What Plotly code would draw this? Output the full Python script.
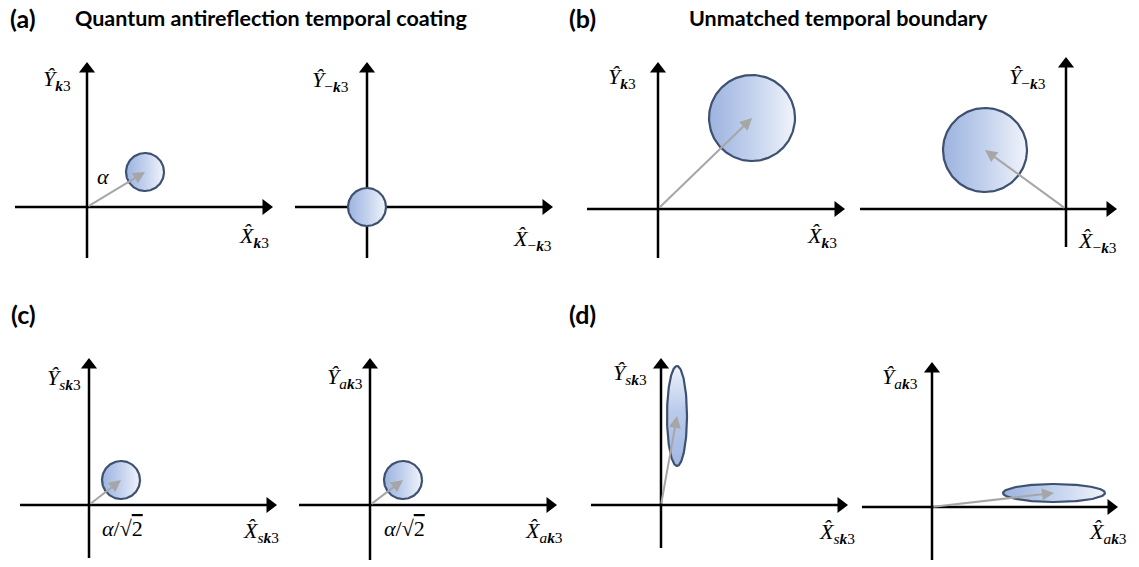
import numpy as np
import plotly.graph_objects as go

W, H = 1139, 567
S = 20.0  # pixels per quadrature unit

# ---- data: coherent-state centres and uncertainty semi-axes (quadrature units) ----
panels = ["a1", "a2", "b1", "b2", "c1", "c2", "d1", "d2"]
center_x = [2.9, 0.0, 4.7, -4.05, 1.6, 1.65, 0.8, 6.1]
center_y = [1.75, 0.0, 4.55, 2.95, 1.25, 1.25, 4.45, 0.7]
semi_x = [0.95, 0.95, 2.15, 2.1, 0.95, 0.95, 0.5, 2.55]
semi_y = [0.95, 0.95, 2.15, 2.1, 0.95, 0.95, 2.5, 0.45]
has_arrow = [True, False, True, True, True, True, True, True]
grad_type = ["horizontal"] * 6 + ["vertical", "horizontal"]

y_labels = [
    "<i>Ŷ</i><sub><b><i>k</i></b>3</sub>",
    "<i>Ŷ</i><sub>−<b><i>k</i></b>3</sub>",
    "<i>Ŷ</i><sub><b><i>k</i></b>3</sub>",
    "<i>Ŷ</i><sub>−<b><i>k</i></b>3</sub>",
    "<i>Ŷ</i><sub><i>s</i><b><i>k</i></b>3</sub>",
    "<i>Ŷ</i><sub><i>a</i><b><i>k</i></b>3</sub>",
    "<i>Ŷ</i><sub><i>s</i><b><i>k</i></b>3</sub>",
    "<i>Ŷ</i><sub><i>a</i><b><i>k</i></b>3</sub>",
]
XH = "X\u0302"
x_labels = [
    f"<i>{XH}</i><sub><b><i>k</i></b>3</sub>",
    f"<i>{XH}</i><sub>−<b><i>k</i></b>3</sub>",
    f"<i>{XH}</i><sub><b><i>k</i></b>3</sub>",
    f"<i>{XH}</i><sub>−<b><i>k</i></b>3</sub>",
    f"<i>{XH}</i><sub><i>s</i><b><i>k</i></b>3</sub>",
    f"<i>{XH}</i><sub><i>a</i><b><i>k</i></b>3</sub>",
    f"<i>{XH}</i><sub><i>s</i><b><i>k</i></b>3</sub>",
    f"<i>{XH}</i><sub><i>a</i><b><i>k</i></b>3</sub>",
]
amp_labels = ["<i>α</i>", "", "", "",
              "<i>α</i>/√<span style='text-decoration:overline'>2</span>",
              "<i>α</i>/√<span style='text-decoration:overline'>2</span>", "", ""]

panel_letters = ["(a)", "(b)", "(c)", "(d)"]
panel_titles = ["Quantum antireflection temporal coating", "Unmatched temporal boundary", "", ""]

# ---- layout geometry (pixels) ----
origins = [(87, 207), (367, 207), (658, 209), (1066, 209),
           (89, 505), (370, 505), (661, 505), (932, 507)]
x_ext = [(15, 273), (295, 553), (587, 845), (860, 1117),
         (20, 277), (299, 557), (591, 848), (862, 1118)]
y_ext = [(62, 258), (62, 258), (62, 258), (57, 247),
         (358, 558), (358, 560), (358, 548), (362, 560)]
ylab_pos = [(57, 80), (330, 81), (622, 78), (1027, 78),
            (64, 379), (345, 378), (630, 374), (900, 378)]
xlab_pos = [(254, 237), (532, 240), (822, 237), (1097, 242),
            (261, 532), (544, 532), (837, 533), (1108, 533)]
amp_pos = [(103, 177), None, None, None, (122, 528), (404, 528), None, None]
letter_pos = [(23, 18), (582, 18), (23, 314), (582, 314)]
title_pos = [(271, 18), (838, 18), None, None]

HEAD = 7  # half marker size of axis arrowheads

fig = go.Figure()
layout = dict(width=W, height=H, margin=dict(l=0, r=0, t=0, b=0),
              paper_bgcolor="white", plot_bgcolor="rgba(0,0,0,0)",
              showlegend=False, annotations=[])

theta = np.linspace(0, 2 * np.pi, 181)
for i, p in enumerate(panels):
    n = "" if i == 0 else str(i + 1)
    ox, oy = origins[i]
    xl, xr = x_ext[i]
    yt, yb = y_ext[i]
    xr_u = [(xl - ox) / S, (xr - ox) / S]
    yr_u = [(oy - yb) / S, (oy - yt) / S]
    layout["xaxis" + n] = dict(domain=[xl / W, xr / W], range=xr_u, visible=False,
                               fixedrange=True)
    layout["yaxis" + n] = dict(domain=[1 - yb / H, 1 - yt / H], range=yr_u, visible=False,
                               fixedrange=True)
    xa, ya = "x" + n, "y" + n
    # axis lines
    hx = (xr - HEAD - ox) / S
    hy = (oy - (yt + HEAD)) / S
    fig.add_trace(go.Scatter(x=[xr_u[0], hx], y=[0, 0], mode="lines",
                             line=dict(color="black", width=2.5), xaxis=xa, yaxis=ya,
                             hoverinfo="skip"))
    fig.add_trace(go.Scatter(x=[0, 0], y=[yr_u[0], hy], mode="lines",
                             line=dict(color="black", width=2.5), xaxis=xa, yaxis=ya,
                             hoverinfo="skip"))
    fig.add_trace(go.Scatter(x=[hx], y=[0], mode="markers",
                             marker=dict(symbol="triangle-right", size=2 * HEAD, color="black"),
                             xaxis=xa, yaxis=ya, hoverinfo="skip"))
    fig.add_trace(go.Scatter(x=[0], y=[hy], mode="markers",
                             marker=dict(symbol="triangle-up", size=2 * HEAD, color="black"),
                             xaxis=xa, yaxis=ya, hoverinfo="skip"))
    # uncertainty region
    cx, cy = center_x[i], center_y[i]
    ex = cx + semi_x[i] * np.cos(theta)
    ey = cy + semi_y[i] * np.sin(theta)
    if grad_type[i] == "vertical":
        cs = [[0, "#a3b8e2"], [0.55, "#b9cbec"], [1, "#eef2fa"]]
    else:
        cs = [[0, "#9db3df"], [0.5, "#c2d1ed"], [1, "#f1f4fb"]]
    fig.add_trace(go.Scatter(x=ex, y=ey, mode="lines", fill="toself",
                             fillgradient=dict(type=grad_type[i], colorscale=cs),
                             line=dict(color="#3f5170", width=2.2), xaxis=xa, yaxis=ya,
                             hoverinfo="skip"))
    # displacement arrow
    if has_arrow[i]:
        layout["annotations"].append(dict(
            x=cx, y=cy, ax=0, ay=0, xref=xa, yref=ya, axref=xa, ayref=ya,
            text="", showarrow=True, arrowhead=2, arrowsize=1.2, arrowwidth=2,
            arrowcolor="#a6a6a6", standoff=0, startstandoff=0))

MATH = dict(family="Liberation Serif", size=22, color="black")
for i in range(len(panels)):
    for pos, txt in ((ylab_pos[i], y_labels[i]), (xlab_pos[i], x_labels[i]),
                     (amp_pos[i], amp_labels[i])):
        if pos is None or not txt:
            continue
        layout["annotations"].append(dict(
            x=pos[0] / W, y=1 - pos[1] / H, xref="paper", yref="paper", text=txt,
            showarrow=False, xanchor="center", yanchor="middle", font=MATH))

for k in range(4):
    lx, ly = letter_pos[k]
    layout["annotations"].append(dict(
        x=lx / W, y=1 - ly / H, xref="paper", yref="paper", text=f"<b>{panel_letters[k]}</b>",
        showarrow=False, xanchor="center", yanchor="middle",
        font=dict(family="Lato", size=25, color="black")))
    if title_pos[k] is not None:
        tx, ty = title_pos[k]
        layout["annotations"].append(dict(
            x=tx / W, y=1 - ty / H, xref="paper", yref="paper", text=f"<b>{panel_titles[k]}</b>",
            showarrow=False, xanchor="center", yanchor="middle",
            font=dict(family="Lato", size=21.5, color="black")))

fig.update_layout(**layout)
fig.write_html("out.html", config=dict(displayModeBar=False),
               post_script="document.body.style.margin='0';")
